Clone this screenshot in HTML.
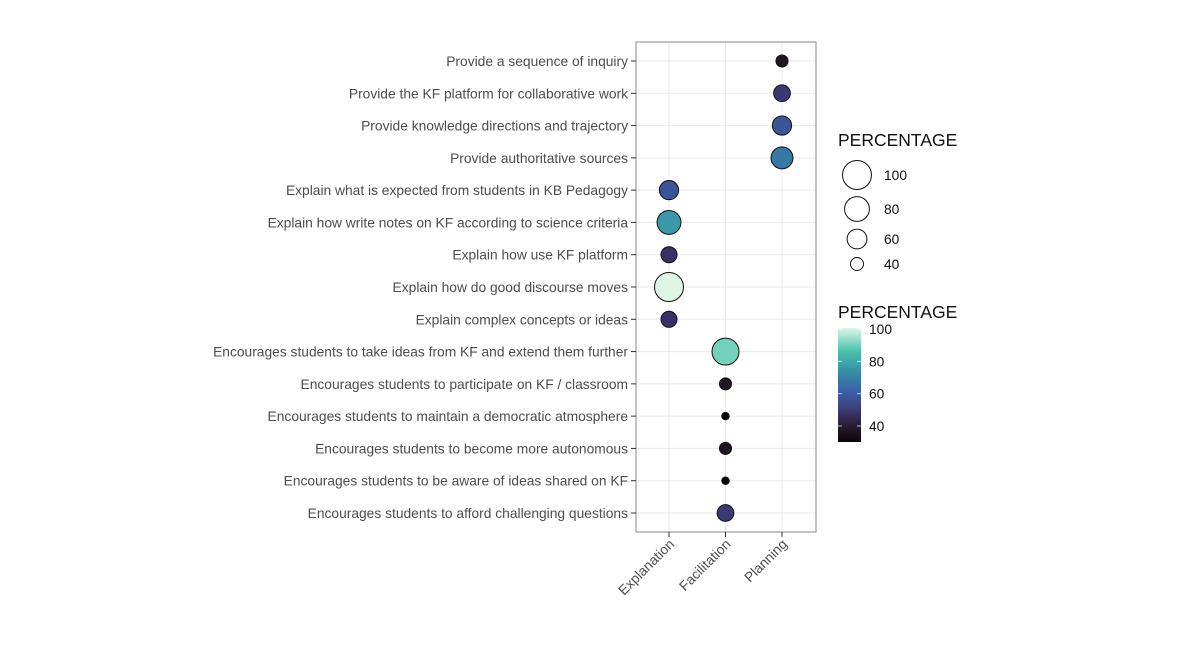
<!DOCTYPE html>
<html><head><meta charset="utf-8"><style>
body{margin:0;background:#fff;}
svg{display:block;font-family:"Liberation Sans",Arial,sans-serif;}
</style></head><body>
<svg id="chart" width="1177" height="662">
<defs>
<linearGradient id="mako" x1="0" y1="1" x2="0" y2="0">
<stop offset="0" stop-color="#0B0405"/><stop offset="0.15" stop-color="#2B1C35"/><stop offset="0.3" stop-color="#3E3F7F"/><stop offset="0.45" stop-color="#3A62A8"/><stop offset="0.6" stop-color="#3589A6"/><stop offset="0.8" stop-color="#4BC3AD"/><stop offset="1" stop-color="#DEF5E5"/>
</linearGradient>
</defs>
<g id="grid"></g>
<g id="marks"></g>
<rect x="636" y="42" width="180" height="490" fill="none" stroke="#888" stroke-width="1"/>
<g id="ylabels"></g>
<g id="xlabels"></g>
<g>
<text x="838" y="146" font-size="17.5" fill="#111">PERCENTAGE</text>
<g id="sizeLegend"></g>
</g>
<g>
<text x="838" y="318" font-size="17.5" fill="#111">PERCENTAGE</text>
<rect x="838" y="328" width="23" height="114" fill="url(#mako)"/>
<g id="colorTicks"></g>
</g>
</svg>
<script>
const categories=["Provide a sequence of inquiry","Provide the KF platform for collaborative work","Provide knowledge directions and trajectory","Provide authoritative sources","Explain what is expected from students in KB Pedagogy","Explain how write notes on KF according to science criteria","Explain how use KF platform","Explain how do good discourse moves","Explain complex concepts or ideas","Encourages students to take ideas from KF and extend them further","Encourages students to participate on KF / classroom","Encourages students to maintain a democratic atmosphere","Encourages students to become more autonomous","Encourages students to be aware of ideas shared on KF","Encourages students to afford challenging questions"];
const groups=["Explanation","Facilitation","Planning"];
const pointGroup=["Planning","Planning","Planning","Planning","Explanation","Explanation","Explanation","Explanation","Explanation","Facilitation","Facilitation","Facilitation","Facilitation","Facilitation","Facilitation"];
const percentages=[38,50,58,68,58,76,48,100,48,90,38,30,38,30,50];
const sizeTicks=[100,80,60,40];
const colorTicks=[100,80,60,40];

const NS="http://www.w3.org/2000/svg";
function mk(tag,attrs,parent){const e=document.createElementNS(NS,tag);for(const k in attrs)e.setAttribute(k,attrs[k]);parent.appendChild(e);return e;}
const yPos=i=>61+i*(513-61)/(categories.length-1);
const xPos=g=>669+groups.indexOf(g)*56.5;
const rad=v=>Math.sqrt(Math.max(2.8*v-70,5));
const stops=[[0,[11,4,5]],[0.15,[43,28,53]],[0.3,[62,63,127]],[0.45,[58,98,168]],[0.6,[53,137,166]],[0.8,[75,195,173]],[1,[222,245,229]]];
function col(v){let t=(v-31)/(100-31);t=Math.max(0,Math.min(1,t));for(let i=1;i<stops.length;i++){if(t<=stops[i][0]){const a=stops[i-1],b=stops[i];const f=(t-a[0])/(b[0]-a[0]);const c=a[1].map((x,j)=>Math.round(x+(b[1][j]-x)*f));return `rgb(${c})`;}}return "rgb(222,245,229)";}
const grid=document.getElementById('grid'),marks=document.getElementById('marks'),yl=document.getElementById('ylabels'),xl=document.getElementById('xlabels');
categories.forEach((c,i)=>{
 const y=yPos(i);
 const gl=mk('line',{x1:636,x2:816,y1:y,y2:y,stroke:'#ebebeb','stroke-width':1},grid);
 
 
 const tk=mk('line',{x1:631,x2:636,y1:y,y2:y,stroke:'#333','stroke-width':1},yl);
 
 
 const t=mk('text',{x:628,y:y+5,'text-anchor':'end','font-size':13.8,fill:'#4d4d4d'},yl);
 t.textContent=c;
 
 
});
groups.forEach(g=>{
 const x=xPos(g);
 const gl=mk('line',{x1:x,x2:x,y1:42,y2:532,stroke:'#ebebeb','stroke-width':1},grid);
 
 
 const tk=mk('line',{x1:x,x2:x,y1:532,y2:537,stroke:'#333','stroke-width':1},xl);
 
 
 const t=mk('text',{x:0,y:0,'text-anchor':'end','font-size':13.8,fill:'#4d4d4d',transform:`translate(${x+6},${545}) rotate(-45)`},xl);
 t.textContent=g;
 
 
});
percentages.forEach((v,i)=>{
 const c=mk('circle',{cx:xPos(pointGroup[i]),cy:yPos(i),r:rad(v),fill:col(v),stroke:'#111','stroke-width':1},marks);
 
 
});
const sl=document.getElementById('sizeLegend');let sy=[175,209,239,264];
sizeTicks.forEach((v,i)=>{
 const c=mk('circle',{cx:857,cy:sy[i],r:rad(v),fill:'#fff',stroke:'#111','stroke-width':1},sl);
 
 
 const t=mk('text',{x:884,y:sy[i]+5,'font-size':13.8,fill:'#111'},sl);
 t.textContent=v;
 
 
});
const ct=document.getElementById('colorTicks');
colorTicks.forEach(v=>{
 const y=329+(100-v)*(426-329)/60;
 const l=mk('line',{x1:838,x2:842,y1:y,y2:y,stroke:'#fff','stroke-width':1,opacity:0.7},ct);
 
 
 const l2=mk('line',{x1:857,x2:861,y1:y,y2:y,stroke:'#fff','stroke-width':1,opacity:0.7},ct);
 
 
 const t=mk('text',{x:869,y:y+5,'font-size':13.8,fill:'#111'},ct);
 t.textContent=v;
 
 
});
</script>
</body></html>
